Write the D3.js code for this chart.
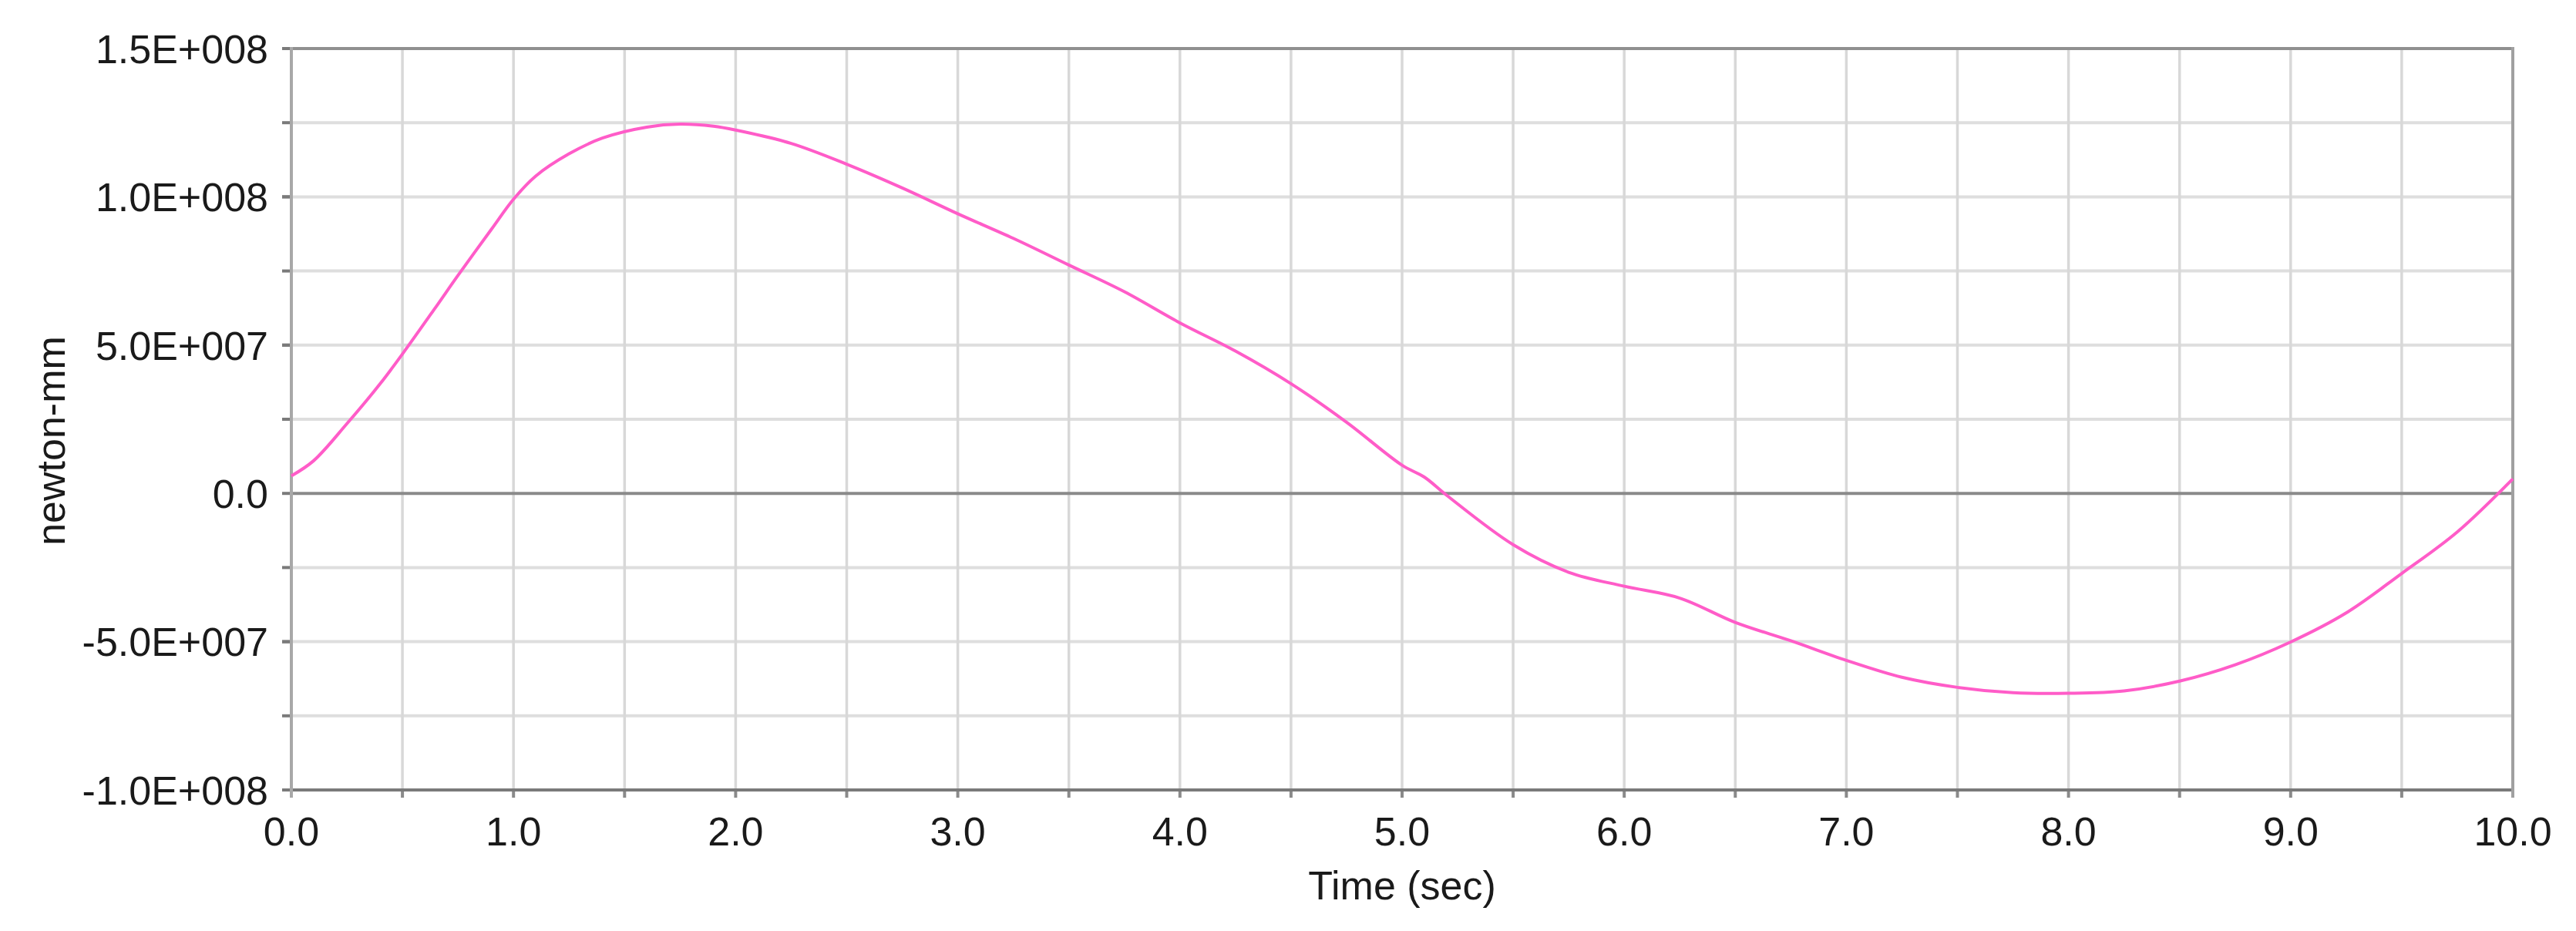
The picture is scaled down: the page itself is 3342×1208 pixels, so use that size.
<!DOCTYPE html>
<html>
<head>
<meta charset="utf-8">
<script src="https://cdn.jsdelivr.net/npm/d3@7"></script>
<style>
  html, body { margin: 0; padding: 0; background: #fff; }
  svg { display: block; }
  text { font-family: "Liberation Sans", Arial, sans-serif; fill: #1a1a1a; }
</style>
</head>
<body>
<svg id="chart" width="3342" height="1208"></svg>
<script>
// Data
const times = [0, 0.1, 0.25, 0.4, 0.5, 0.65, 0.75, 0.9, 1.0, 1.1, 1.25, 1.4, 1.6, 1.75, 1.9, 2.0, 2.25, 2.5, 2.75, 3.0, 3.25, 3.5, 3.75,
  4.0, 4.25, 4.5, 4.75, 5.0, 5.1, 5.2, 5.5, 5.75, 6.0, 6.25, 6.5, 6.75, 7.0, 7.25, 7.5, 7.75,
  8.0, 8.25, 8.5, 8.75, 9.0, 9.25, 9.5, 9.75, 10.0];
const moment = [5.9e6, 11e6, 23.5e6, 37e6, 47e6, 62.8e6, 73.5e6, 89e6, 99.2e6, 107e6, 114.5e6, 119.8e6, 123.5e6, 124.5e6, 123.8e6, 122.5e6, 118e6, 111e6, 103e6,
  94.3e6, 86e6, 77e6, 68e6, 57.5e6, 48e6, 37e6, 24e6, 9.5e6, 5.5e6, -0.6e6, -17.3e6, -26.6e6, -31.3e6,
  -35.3e6, -43.5e6, -49.7e6, -56.3e6, -62e6, -65.4e6, -67.2e6, -67.4e6, -66.6e6, -63.3e6, -57.8e6,
  -50.1e6, -40.3e6, -27e6, -13e6, 4.9e6];
const xTickValues = [0, 1, 2, 3, 4, 5, 6, 7, 8, 9, 10];
const xTickLabels = ["0.0", "1.0", "2.0", "3.0", "4.0", "5.0", "6.0", "7.0", "8.0", "9.0", "10.0"];
const xGridValues = [0.5, 1, 1.5, 2, 2.5, 3, 3.5, 4, 4.5, 5, 5.5, 6, 6.5, 7, 7.5, 8, 8.5, 9, 9.5];
const yTickValues = [1.5e8, 1.0e8, 5.0e7, 0, -5.0e7, -1.0e8];
const yTickLabels = ["1.5E+008", "1.0E+008", "5.0E+007", "0.0", "-5.0E+007", "-1.0E+008"];
const yGridValues = [1.25e8, 1.0e8, 7.5e7, 5.0e7, 2.5e7, -2.5e7, -5.0e7, -7.5e7];
const xTitle = "Time (sec)";
const yTitle = "newton-mm";

const svg = d3.select("#chart");
const L = 378, R = 3260, T = 63, B = 1025;
const x = d3.scaleLinear().domain([0, 10]).range([L, R]);
const y = d3.scaleLinear().domain([-1.0e8, 1.5e8]).range([B, T]);
const FS = 52;

// Grid
svg.append("g").selectAll("line").data(yGridValues).join("line")
  .attr("x1", L).attr("x2", R).attr("y1", d => y(d)).attr("y2", d => y(d))
  .attr("stroke", "#dedede").attr("stroke-width", 4);
svg.append("g").selectAll("line").data(xGridValues).join("line")
  .attr("x1", d => x(d)).attr("x2", d => x(d)).attr("y1", T).attr("y2", B)
  .attr("stroke", "#d8d8d8").attr("stroke-width", 3.5);

// zero line
svg.append("line").attr("x1", L).attr("x2", R).attr("y1", y(0)).attr("y2", y(0))
  .attr("stroke", "#8a8a8a").attr("stroke-width", 4);

// Left axis ticks (every 0.25E8)
const yAll = yTickValues.concat(yGridValues);
svg.append("g").selectAll("line").data(yAll).join("line")
  .attr("x1", L - 12).attr("x2", L).attr("y1", d => y(d)).attr("y2", d => y(d))
  .attr("stroke", "#7a7a7a").attr("stroke-width", 4);
// Bottom axis ticks (every 0.5)
svg.append("g").selectAll("line").data([0].concat(xGridValues, [10])).join("line")
  .attr("x1", d => x(d)).attr("x2", d => x(d)).attr("y1", B).attr("y2", B + 10)
  .attr("stroke", "#8a8a8a").attr("stroke-width", 4);

// Frame
svg.append("line").attr("x1", L).attr("x2", R).attr("y1", T).attr("y2", T).attr("stroke", "#909090").attr("stroke-width", 4);
svg.append("line").attr("x1", L).attr("x2", R).attr("y1", B).attr("y2", B).attr("stroke", "#7a7a7a").attr("stroke-width", 4);
svg.append("line").attr("x1", L).attr("x2", L).attr("y1", T - 2).attr("y2", B + 10).attr("stroke", "#a8a8a8").attr("stroke-width", 4);
svg.append("line").attr("x1", R).attr("x2", R).attr("y1", T - 2).attr("y2", B + 10).attr("stroke", "#a0a0a0").attr("stroke-width", 4);

// Y tick labels
svg.append("g").selectAll("text").data(yTickValues).join("text")
  .attr("x", L - 30).attr("y", d => y(d)).attr("dy", "0.36em")
  .attr("text-anchor", "end").attr("font-size", FS)
  .text((d, i) => yTickLabels[i]);

// X tick labels
svg.append("g").selectAll("text").data(xTickValues).join("text")
  .attr("x", d => x(d)).attr("y", 1097)
  .attr("text-anchor", "middle").attr("font-size", FS)
  .text((d, i) => xTickLabels[i]);

// Titles
svg.append("text").attr("x", (L + R) / 2).attr("y", 1167).attr("text-anchor", "middle")
  .attr("font-size", FS).text(xTitle);
svg.append("text").attr("transform", "translate(84,572) rotate(-90)").attr("text-anchor", "middle")
  .attr("font-size", FS).text(yTitle);

// Curve
const data = times.map((t, i) => ({ t, v: moment[i] }));
const line = d3.line().x(d => x(d.t)).y(d => y(d.v)).curve(d3.curveCatmullRom.alpha(0.5));
svg.append("path").datum(data).attr("d", line)
  .attr("fill", "none").attr("stroke", "#ff5cc8").attr("stroke-width", 4);
</script>
</body>
</html>
